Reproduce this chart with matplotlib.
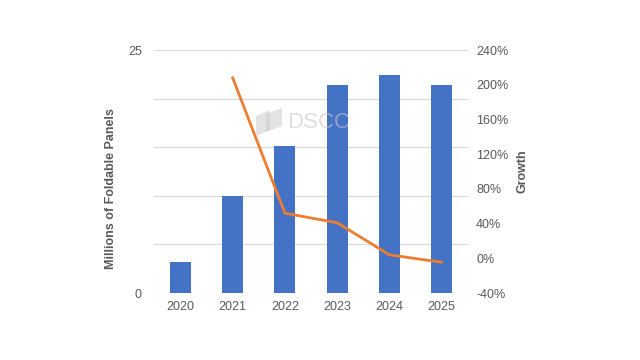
import matplotlib

matplotlib.use("Agg")
import matplotlib.pyplot as plt
from matplotlib.patches import Polygon
from matplotlib.ticker import FixedLocator, FuncFormatter

plt.rcParams["font.family"] = ["Liberation Sans", "DejaVu Sans"]

years = ["2020", "2021", "2022", "2023", "2024", "2025"]
panels = [3.2, 10.0, 15.1, 21.4, 22.4, 21.4]
growth_years = ["2021", "2022", "2023", "2024", "2025"]
growth = [208, 52, 41, 4, -4.5]

TEXT = "#595959"
GRID = "#D9D9D9"

fig = plt.figure(figsize=(6.4, 3.6), dpi=100)
ax = fig.add_axes([0.241, 0.186, 0.490, 0.675])
ax2 = ax.twinx()

x = list(range(len(years)))
ax.bar(x, panels, width=0.4, color="#4472C4", zorder=2)
ax.set_xlim(-0.5, len(years) - 0.5)
ax.set_ylim(0, 25)
ax.yaxis.set_major_locator(FixedLocator([0, 5, 10, 15, 20, 25]))
ax.yaxis.set_major_formatter(FuncFormatter(lambda v, p: f"{v:.0f}" if v in (0, 25) else ""))
ax.set_xticks(x)
ax.set_xticklabels(years)
ax.grid(axis="y", color=GRID, linewidth=0.8, zorder=0)
ax.set_axisbelow(True)
ax.set_ylabel("Millions of Foldable Panels", fontsize=9, fontweight="bold", color=TEXT)
ax.yaxis.set_label_coords(-0.118, 0.428)

gx = [years.index(y) for y in growth_years]
ax2.plot(gx, growth, color="#ED7D31", linewidth=2, zorder=3)
ax2.set_ylim(-40, 240)
ax2.set_yticks(range(-40, 241, 40))
ax2.yaxis.set_major_formatter(FuncFormatter(lambda v, p: f"{v:.0f}%"))
ax2.set_ylabel("Growth", fontsize=9, fontweight="bold", color=TEXT, labelpad=6)

for a in (ax, ax2):
    for s in a.spines.values():
        s.set_visible(False)
    a.tick_params(length=0, labelsize=9, colors=TEXT)
ax.tick_params(axis="y", pad=9)
ax.tick_params(axis="x", pad=6)
ax2.tick_params(axis="y", pad=6)

# DSCC watermark
wm = "#C8C8C8"
fig.text(0.449, 0.644, "DSCC", fontsize=16, color=wm, alpha=0.6, zorder=5)
for pts in (
    [(256, 116), (270, 110), (270, 130), (256, 136)],
    [(266, 114), (282, 108), (282, 126), (266, 132)],
):
    fig.patches.append(
        Polygon([(px / 640, 1 - py / 360) for px, py in pts], closed=True,
                transform=fig.transFigure, facecolor=wm, edgecolor="none", alpha=0.5, zorder=5)
    )

fig.savefig("out.png", dpi=100)
